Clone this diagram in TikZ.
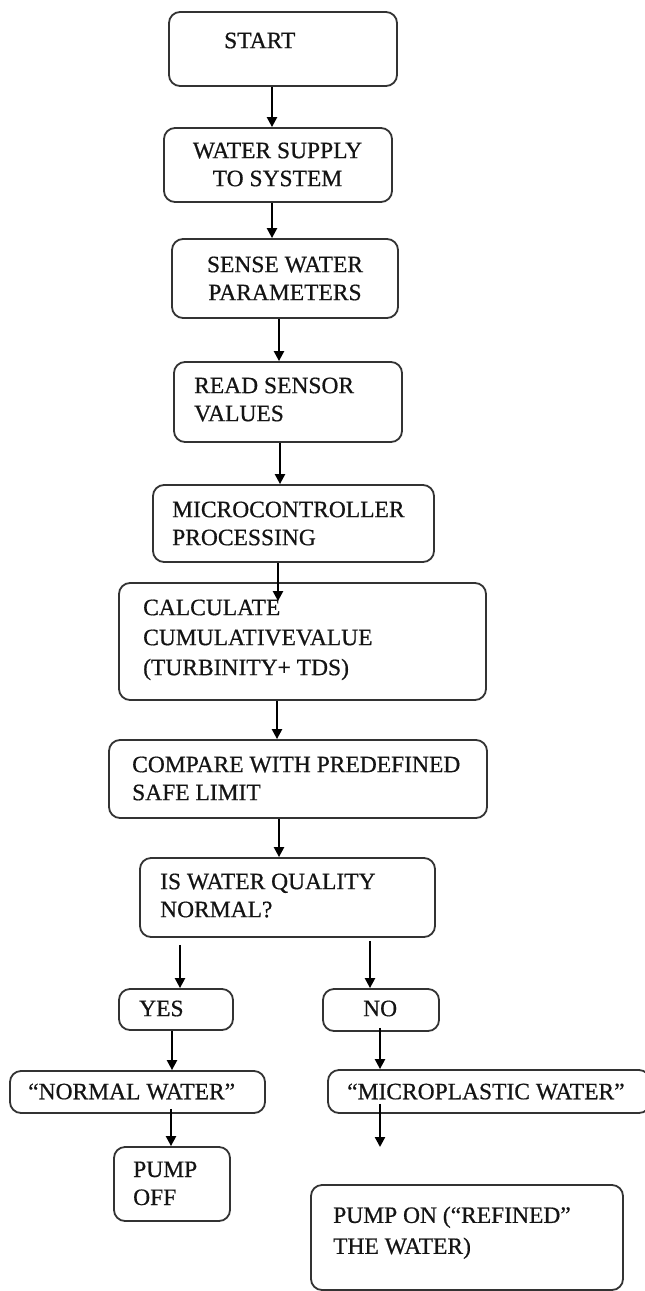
\documentclass[tikz,border=0pt]{standalone}
\usepackage{fontspec}
\setmainfont{Liberation Serif}[FakeBold=0.6]
\usetikzlibrary{arrows.meta}
\definecolor{framegray}{HTML}{333333}
\definecolor{inkblack}{HTML}{141414}
\tikzset{
  box/.style={draw=framegray, line width=1.8pt, rounded corners=11pt, inner sep=0pt},
  txt/.style={anchor=north west, inner sep=0pt, align=left, text=inkblack,
    font=\fontsize{23.5}{28}\selectfont},
  flow/.style={-{Triangle[width=10pt,length=10pt]}, line width=2.2pt, black}
}
\begin{document}
\begin{tikzpicture}[x=1pt,y=-1pt]
  \useasboundingbox (0,0) rectangle (645,1291);
  % frames
  \node[box, minimum width=228, minimum height=74] (start) at (283,49) {};
  \node[box, minimum width=228, minimum height=74] (supply) at (278,165) {};
  \node[box, minimum width=226, minimum height=79] (sense) at (285,278.5) {};
  \node[box, minimum width=228, minimum height=80] (read) at (288,402) {};
  \node[box, minimum width=281, minimum height=77] (micro) at (293.5,523.5) {};
  \node[box, minimum width=367, minimum height=117] (calc) at (302.5,641.5) {};
  \node[box, minimum width=378, minimum height=78] (compare) at (298,779) {};
  \node[box, minimum width=295, minimum height=79] (quality) at (287.5,897.5) {};
  \node[box, minimum width=114, minimum height=41] (yes) at (176,1009.5) {};
  \node[box, minimum width=116, minimum height=42] (no) at (381,1010) {};
  \node[box, minimum width=255, minimum height=42] (normal) at (137.5,1092) {};
  \node[box, minimum width=322, minimum height=43] (plastic) at (489,1091.5) {};
  \node[box, minimum width=116, minimum height=74] (pumpoff) at (172,1184) {};
  \node[box, minimum width=312, minimum height=105] (pumpon) at (467,1237.5) {};
  \coordinate (plastic-end) at (380,1147);
  % texts
  \node[txt] (start-t) at (224,32.4) {START};
  \node[txt, anchor=north, align=center] (supply-t) at (277.5,142.4) {WATER SUPPLY\\TO SYSTEM};
  \node[txt, anchor=north, align=center] (sense-t) at (285,256.4) {SENSE WATER\\PARAMETERS};
  \node[txt] (read-t) at (194,377.4) {READ SENSOR\\VALUES};
  \node[txt] (micro-t) at (172,501.4) {MICROCONTROLLER\\PROCESSING};
  \node[txt, font=\fontsize{23.5}{30}\selectfont] (calc-t) at (143,599.4)
    {CALCULATE\\CUMULATIVEVALUE\\(TURBINITY+ TDS)};
  \node[txt] (compare-t) at (132,756.4) {COMPARE WITH PREDEFINED\\SAFE LIMIT};
  \node[txt] (quality-t) at (160,873.4) {IS WATER QUALITY\\NORMAL?};
  \node[txt] (yes-t) at (139,1000.4) {YES};
  \node[txt] (no-t) at (363,1000.4) {NO};
  \node[txt] (normal-t) at (28,1083.4) {“NORMAL WATER”};
  \node[txt] (plastic-t) at (347,1083.4) {“MICROPLASTIC WATER”};
  \node[txt] (pumpoff-t) at (133,1161.4) {PUMP\\OFF};
  \node[txt, font=\fontsize{23.5}{31}\selectfont] (pumpon-t) at (333,1206.4)
    {PUMP ON (“REFINED”\\THE WATER)};
  % arrows
  \draw[flow] ([xshift=-11pt]start.south) -- ([xshift=-6pt]supply.north);
  \draw[flow] ([xshift=-6pt]supply.south) -- ([xshift=-13pt]sense.north);
  \draw[flow] ([xshift=-6pt]sense.south) -- ([xshift=-9pt]read.north);
  \draw[flow] ([xshift=-8pt]read.south) -- ([xshift=-13.5pt]micro.north);
  \draw[flow] ([xshift=-15.5pt]micro.south) -- ([xshift=-24.5pt,yshift=-19pt]calc.north);
  \draw[flow] ([xshift=-25.5pt]calc.south) -- ([xshift=-21pt]compare.north);
  \draw[flow] ([xshift=-19pt]compare.south) -- ([xshift=-8.5pt]quality.north);
  \draw[flow] ([xshift=-107.5pt,yshift=-7pt]quality.south) -- ([xshift=4pt]yes.north);
  \draw[flow] ([xshift=82.5pt,yshift=-3pt]quality.south) -- ([xshift=-11pt]no.north);
  \draw[flow] ([xshift=-4pt]yes.south) -- ([xshift=34.5pt]normal.north);
  \draw[flow] ([xshift=-1pt,yshift=4pt]no.south) -- ([xshift=-109pt]plastic.north);
  \draw[flow] ([xshift=33.5pt,yshift=5pt]normal.south) -- ([xshift=-1pt]pumpoff.north);
  \draw[flow] ([xshift=-109pt,yshift=10pt]plastic.south) -- (plastic-end);
\end{tikzpicture}
\end{document}
